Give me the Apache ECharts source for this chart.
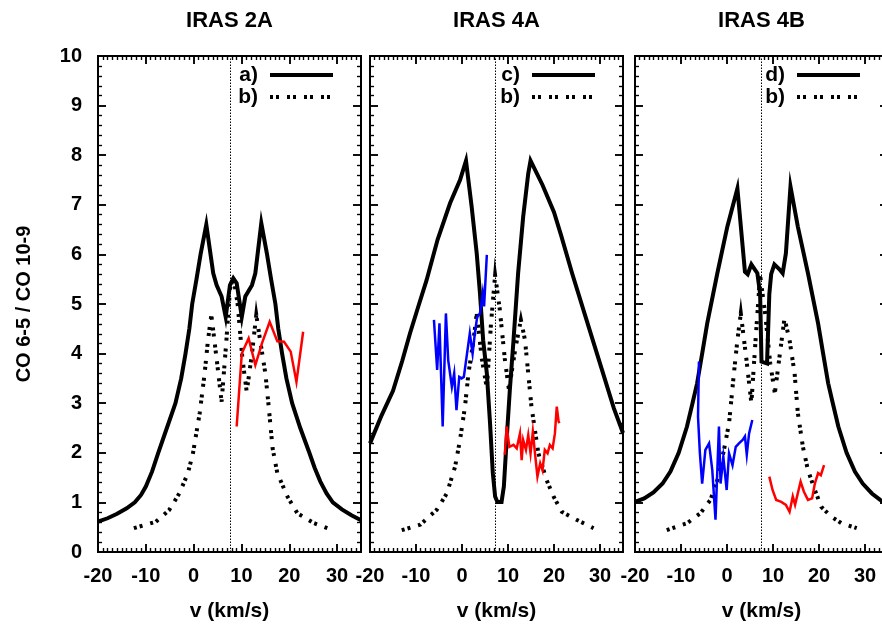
<!DOCTYPE html>
<html>
<head>
<meta charset="utf-8">
<script src="https://cdn.jsdelivr.net/npm/echarts@6/dist/echarts.min.js"></script>
<style>
html,body{margin:0;padding:0;background:#fff}
#wrap{position:relative;width:882px;height:624px}
#c,#t{position:absolute;left:0;top:0;width:882px;height:624px}
#t{pointer-events:none}
</style>
</head>
<body>
<div id="wrap"><div id="c"></div><div id="t"></div></div>
<script>
// ---- data (v in km/s, ratio CO 6-5 / CO 10-9) ----
const panelTitles = ['IRAS 2A', 'IRAS 4A', 'IRAS 4B'];
const modelNames = ['a)', 'c)', 'd)'];
const vlsr = [7.75, 7.2, 7.45];
const xTicks = [-20, -10, 0, 10, 20, 30];
const yTicks = [0, 1, 2, 3, 4, 5, 6, 7, 8, 9, 10];

const iras2a_model = [[-20,0.61],[-18,0.68],[-16,0.77],[-14,0.88],[-12.3,1.0],[-11,1.15],[-10,1.32],[-8.7,1.62],[-7.4,2.0],[-5.6,2.5],[-3.8,3.0],[-2.6,3.5],[-1.7,4.0],[-0.9,4.5],[-0.3,5.0],[0.6,5.5],[1.45,6.0],[2.65,6.6],[4.1,5.62],[4.8,5.38],[5.85,5.15],[6.7,4.74],[7.6,5.38],[8.3,5.52],[9.0,5.42],[10.07,4.74],[10.8,5.15],[12.2,5.38],[12.9,5.62],[14.15,6.63],[15.35,6.0],[16.2,5.5],[17.1,5.0],[17.7,4.5],[18.5,4.0],[19.4,3.5],[20.6,3.0],[22.3,2.5],[24.2,2.0],[25.3,1.7],[26.5,1.42],[27.8,1.18],[29.1,1.0],[31,0.86],[33,0.74],[35,0.64]];
const iras2a_b = [[-12.5,0.48],[-7.9,0.61],[-5.1,0.85],[-3.0,1.18],[-1.2,1.59],[-0.14,1.99],[1.27,2.8],[2.3,3.6],[3.0,4.27],[3.7,4.78],[4.8,3.9],[5.85,3.03],[6.8,4.2],[7.6,5.3],[8.3,5.55],[9.2,5.0],[10.2,3.9],[11.1,3.23],[12.2,4.0],[13.1,4.78],[13.9,4.27],[15.0,3.6],[15.7,2.93],[16.5,2.1],[17.5,1.59],[19.6,1.12],[21.7,0.78],[25.2,0.58],[28.0,0.48]];
const iras2a_red = [[9.0,2.53],[10.07,4.0],[11.5,4.31],[12.9,3.77],[14.3,4.21],[15.9,4.64],[17.5,4.25],[18.9,4.24],[20.3,4.04],[21.5,3.43],[22.9,4.44]];

const iras4a_model = [[-20,2.19],[-17.5,2.75],[-15,3.25],[-13,3.85],[-11.3,4.41],[-9.5,4.95],[-7.7,5.48],[-5.3,6.3],[-2.6,7.03],[-0.43,7.5],[0.87,7.89],[2.1,6.96],[3.2,6.02],[3.9,5.22],[4.6,4.27],[5.4,3.6],[6.1,2.59],[6.7,1.59],[7.2,1.12],[7.7,1.01],[8.6,1.01],[9.1,1.32],[9.7,2.26],[10.4,3.27],[11.2,4.27],[12.2,5.62],[13.3,6.76],[14.4,7.63],[14.9,7.89],[17.5,7.4],[20,6.85],[21.5,6.4],[24,5.6],[27,4.7],[30.5,3.65],[33,2.9],[35,2.4]];
const iras4a_b = [[-13.1,0.44],[-9.1,0.55],[-5.5,0.85],[-3.3,1.18],[-1.5,1.72],[-0.43,2.26],[0.65,2.93],[1.4,3.6],[2.5,4.27],[3.2,4.81],[4.3,3.9],[5.4,3.3],[6.3,4.6],[7.2,5.58],[8.2,4.9],[9.3,3.9],[10.2,3.27],[11.6,4.1],[12.8,4.68],[13.7,4.27],[14.4,3.6],[15.1,2.93],[16.6,1.99],[18.4,1.45],[19.9,1.12],[21.7,0.81],[24.9,0.65],[28.6,0.48]];
const iras4a_blue = [[-6.1,4.68],[-5.4,3.67],[-4.9,4.61],[-4.2,2.53],[-3.5,4.81],[-3.0,3.87],[-2.2,3.33],[-1.7,3.6],[-1.2,2.86],[-0.6,3.53],[-0.1,3.5],[0.4,3.53],[1.0,3.94],[1.7,4.41],[2.3,4.0],[2.8,4.41],[3.3,4.74],[3.9,4.81],[4.5,5.22],[4.8,4.95],[5.4,5.99]];
const iras4a_red = [[9.3,1.96],[9.7,2.53],[10.3,2.12],[11.2,2.16],[11.9,2.09],[12.6,2.39],[12.97,1.85],[13.3,2.26],[13.9,2.06],[14.4,2.36],[14.9,1.99],[15.4,2.43],[15.9,1.96],[16.4,1.52],[17.0,1.79],[17.5,1.65],[18.0,2.06],[18.6,1.99],[19.1,2.16],[19.7,2.09],[20.2,2.39],[20.6,2.93],[21.0,2.63],[21.2,2.6]];

const iras4b_model = [[-20,1.01],[-18,1.08],[-16,1.2],[-14,1.38],[-12.3,1.62],[-10.5,2.0],[-8.7,2.53],[-7.5,3.0],[-6.5,3.4],[-5.4,4.0],[-4.3,4.61],[-2.1,5.62],[0.07,6.56],[2.26,7.33],[3.9,5.65],[4.5,5.6],[5.3,5.8],[6.1,5.69],[6.6,5.62],[7.2,5.2],[7.5,3.84],[8.7,3.8],[9.2,5.2],[9.6,5.6],[10.3,5.8],[11.4,5.7],[12.1,5.62],[12.8,6.02],[13.8,7.37],[15.4,6.56],[17.6,5.62],[19.8,4.61],[20.9,4.0],[22.0,3.4],[23.0,3.0],[24.2,2.53],[26,2.0],[27.8,1.62],[29.5,1.38],[31.5,1.18],[33.3,1.05],[35,0.95]];
const iras4b_b = [[-13.1,0.44],[-8.7,0.58],[-5.8,0.78],[-3.6,1.05],[-2.1,1.45],[-0.66,2.06],[0.44,2.59],[1.5,3.6],[2.26,4.27],[3.0,4.81],[4.2,3.9],[5.3,3.0],[6.3,4.4],[7.2,5.58],[8.3,4.8],[9.4,3.8],[10.4,3.2],[11.5,4.0],[12.5,4.71],[13.6,4.27],[14.7,3.6],[15.4,2.8],[16.5,2.12],[17.6,1.65],[19.1,1.25],[20.5,0.91],[22.7,0.71],[24.9,0.58],[28.2,0.48]];
const iras4b_blue = [[-6.1,3.84],[-6.3,2.73],[-5.9,2.0],[-5.4,1.38],[-4.7,2.06],[-3.9,2.19],[-3.2,1.65],[-2.5,0.65],[-1.75,2.53],[-1.4,1.38],[-0.8,1.92],[-0.07,1.25],[0.44,1.99],[1.2,1.75],[1.9,2.12],[2.6,2.19],[3.4,2.26],[3.9,2.33],[4.3,1.96],[4.8,2.39],[5.5,2.66]];
const iras4b_red = [[9.2,1.52],[9.9,1.25],[10.7,1.05],[11.8,1.01],[12.8,0.95],[13.6,0.81],[14.3,1.12],[14.8,0.95],[16.0,1.42],[16.7,1.22],[17.6,1.05],[18.5,1.08],[19.1,1.38],[19.8,1.59],[20.4,1.55],[21.1,1.75]];

const models = [iras2a_model, iras4a_model, iras4b_model];
const bCurves = [iras2a_b, iras4a_b, iras4b_b];
const redCurves = [iras2a_red, iras4a_red, iras4b_red];
const blueCurves = [null, iras4a_blue, iras4b_blue];

// ---- layout ----
const FONT = '"Liberation Sans", Arial, Helvetica, sans-serif';
const gridBoxes = [
  {left: 98, top: 56, width: 263, height: 496, outerBoundsMode: 'none'},
  {left: 370, top: 56, width: 253, height: 496, outerBoundsMode: 'none'},
  {left: 635, top: 56, width: 253, height: 496, outerBoundsMode: 'none'}
];
const dotted = [3, 3, 3, 8];

function axisBase(split) {
  return {
    type: 'value', z: 10,
    axisLine: {show: true, onZero: false, lineStyle: {color: '#000', width: 2}},
    axisTick: {show: true, inside: true, length: 8, lineStyle: {color: '#000', width: 1.5}},
    minorTick: {show: true, splitNumber: split, length: 4, lineStyle: {color: '#000', width: 1.2}},
    splitLine: {show: false},
    minorSplitLine: {show: false}
  };
}

// ---------- main chart: labels, names, curves, titles, key ----------
const xAxes = [], yAxes = [], series = [], titles = [], graphics = [];
gridBoxes.forEach((g, i) => {
  ['bottom', 'top'].forEach(pos => {
    const o = axisBase(10);
    o.gridIndex = i; o.position = pos;
    o.min = xTicks[0]; o.max = 35; o.interval = 10;
    o.axisLabel = {show: pos === 'bottom', showMaxLabel: false, color: '#000', fontSize: 20, fontWeight: 'bold', fontFamily: FONT, margin: 14};
    if (pos === 'bottom') {
      o.name = 'v (km/s)'; o.nameLocation = 'middle'; o.nameGap = 49;
      o.nameTextStyle = {color: '#000', fontSize: 21, fontWeight: 'bold', fontFamily: FONT};
    }
    xAxes.push(o);
  });
  ['left', 'right'].forEach(pos => {
    const o = axisBase(5);
    o.gridIndex = i; o.position = pos;
    o.min = yTicks[0]; o.max = yTicks[yTicks.length - 1]; o.interval = 1;
    const lab = i === 0 && pos === 'left';
    o.axisLabel = {show: lab, color: '#000', fontSize: 20, fontWeight: 'bold', fontFamily: FONT, margin: 16};
    if (lab) {
      o.name = 'CO 6-5 / CO 10-9'; o.nameLocation = 'middle'; o.nameGap = 64;
      o.nameTextStyle = {color: '#000', fontSize: 20, fontWeight: 'bold', fontFamily: FONT};
    }
    yAxes.push(o);
  });
  const xi = i * 2, yi = i * 2;
  series.push({
    name: modelNames[i], type: 'line', xAxisIndex: xi, yAxisIndex: yi,
    data: models[i], symbol: 'none', showSymbol: false,
    lineStyle: {color: '#000', width: 4, join: 'miter'}, itemStyle: {color: '#000'},
    markLine: {silent: true, symbol: ['none', 'none'], label: {show: false},
      lineStyle: {color: '#000', width: 1, type: [1.5, 1.5]}, data: [{xAxis: vlsr[i]}]}
  });
  series.push({
    name: 'b)', type: 'line', xAxisIndex: xi, yAxisIndex: yi,
    data: bCurves[i], symbol: 'none', showSymbol: false,
    lineStyle: {color: '#000', width: 4, type: dotted, join: 'miter'}, itemStyle: {color: '#000'}
  });
  series.push({
    name: 'red' + i, type: 'line', xAxisIndex: xi, yAxisIndex: yi,
    data: redCurves[i], symbol: 'none', showSymbol: false,
    lineStyle: {color: '#ff0000', width: 2.5, join: 'miter'}, itemStyle: {color: '#ff0000'}
  });
  if (blueCurves[i]) series.push({
    name: 'blue' + i, type: 'line', xAxisIndex: xi, yAxisIndex: yi,
    data: blueCurves[i], symbol: 'none', showSymbol: false,
    lineStyle: {color: '#0000ff', width: 2.5, join: 'miter'}, itemStyle: {color: '#0000ff'}
  });
  titles.push({
    text: panelTitles[i], left: g.left + g.width / 2, top: 10, textAlign: 'center', padding: 0,
    textStyle: {color: '#000', fontSize: 22, fontWeight: 'bold', fontFamily: FONT}
  });
  // key at each panel's upper right
  const R = g.left + g.width;
  [modelNames[i], 'b)'].forEach((nm, k) => {
    const yy = 75 + k * 22;
    graphics.push({type: 'text', x: R - 103, y: yy, style: {text: nm, fill: '#000', font: 'bold 21px ' + FONT, textAlign: 'right', textVerticalAlign: 'middle'}});
    graphics.push({type: 'line', shape: {x1: R - 91, y1: yy, x2: R - 28, y2: yy},
      style: {stroke: '#000', lineWidth: 4, lineDash: k === 0 ? null : dotted}});
  });
});

const chart = echarts.init(document.getElementById('c'), null, {renderer: 'canvas'});
chart.setOption({
  animation: false, backgroundColor: '#fff',
  title: titles, grid: gridBoxes,
  xAxis: xAxes, yAxis: yAxes, series: series, graphic: graphics
});

// ---------- overlay: frame with inward major/minor ticks on all four sides ----------
const tx = [], ty = [], ts = [];
gridBoxes.forEach((g, i) => {
  ['bottom', 'top'].forEach(pos => {
    const o = axisBase(10);
    o.gridIndex = i; o.position = pos; o.min = xTicks[0]; o.max = 35; o.interval = 10;
    o.axisLabel = {show: false};
    tx.push(o);
  });
  ['left', 'right'].forEach(pos => {
    const o = axisBase(5);
    o.gridIndex = i; o.position = pos; o.min = yTicks[0]; o.max = yTicks[yTicks.length - 1]; o.interval = 1;
    o.axisLabel = {show: false};
    ty.push(o);
  });
  ts.push({type: 'line', xAxisIndex: i * 2, yAxisIndex: i * 2, data: [], symbol: 'none', silent: true});
});
const overlay = echarts.init(document.getElementById('t'), null, {renderer: 'canvas'});
overlay.setOption({
  animation: false, backgroundColor: 'transparent',
  grid: gridBoxes, xAxis: tx, yAxis: ty, series: ts
});
</script>
</body>
</html>
